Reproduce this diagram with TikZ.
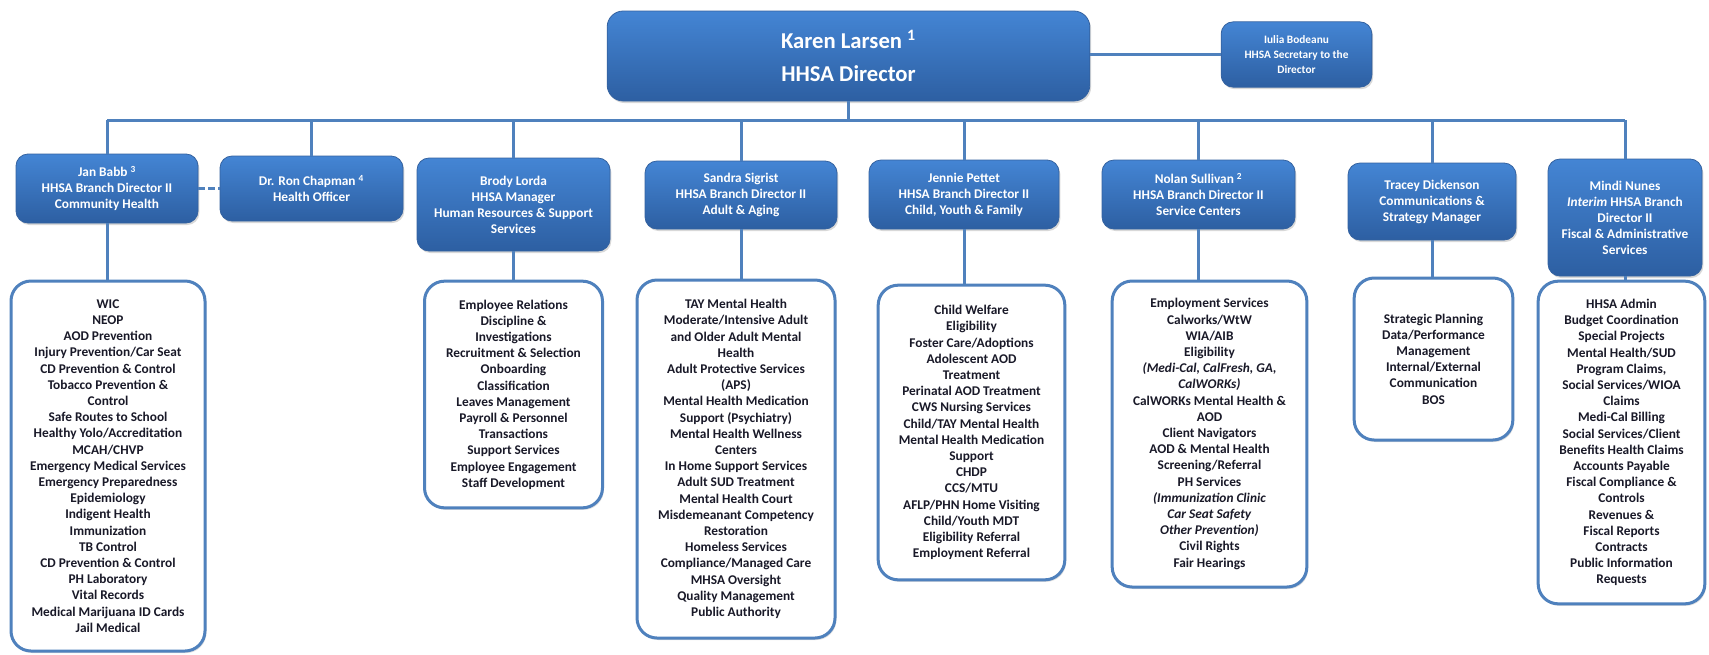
\documentclass[tikz,border=0pt]{standalone}
\usepackage{fontspec}
\setmainfont{Carlito}
\usetikzlibrary{shadows}
\definecolor{lineblue}{RGB}{79,129,189}
\definecolor{boxtop}{RGB}{68,133,212}
\definecolor{boxbot}{RGB}{45,95,162}
\definecolor{boxedge}{RGB}{52,98,160}
\definecolor{listtext}{RGB}{25,25,40}
\begin{document}
\begin{tikzpicture}[x=0.75pt,y=-0.75pt,
  conn/.style={draw=lineblue,line width=2.25pt},
  headbox/.style={rounded corners=9pt, top color=boxtop, bottom color=boxbot,
    draw=boxedge, line width=0.6pt, text=white,
    font=\bfseries\fontsize{10}{12}\selectfont, align=center, inner sep=2pt,
    drop shadow={opacity=0.3,shadow xshift=1pt,shadow yshift=-1.5pt}},
  listbox/.style={rounded corners=15pt, draw=lineblue, line width=2.25pt,
    fill=white, text=listtext, font=\bfseries\fontsize{10}{12.15}\selectfont,
    align=center, inner sep=2pt,
    drop shadow={opacity=0.25,shadow xshift=1pt,shadow yshift=-1.5pt}},
]
\fill[white] (0,0) rectangle (1709,654);
\useasboundingbox (0,0) rectangle (1709,654);

% top level
\node[headbox, rounded corners=12pt, minimum width=362pt, minimum height=67.5pt,
  font=\bfseries\fontsize{17}{25}\selectfont] (dir) at (848.5,56)
  {Karen Larsen \textsuperscript{1}\\HHSA Director};
\node[headbox, minimum width=113pt, minimum height=49pt,
  font=\bfseries\fontsize{8.5}{11.4}\selectfont] (sec) at (1296.5,54.5)
  {Iulia Bodeanu\\HHSA Secretary to the\\Director};

% second level
\node[headbox, minimum width=136.5pt, minimum height=51.75pt] (jan) at (107,188.5)
  {Jan Babb \textsuperscript{3}\\HHSA Branch Director II\\Community Health};
\node[headbox, minimum width=137.25pt, minimum height=48.75pt] (ron) at (311.5,188.5)
  {Dr. Ron Chapman \textsuperscript{4}\\Health Officer};
\node[headbox, minimum width=144.75pt, minimum height=69.75pt] (brody) at (513.5,204.5)
  {Brody Lorda\\HHSA Manager\\Human Resources \& Support\\Services};
\node[headbox, minimum width=144pt, minimum height=51pt] (sandra) at (741,195)
  {Sandra Sigrist\\HHSA Branch Director II\\Adult \& Aging};
\node[headbox, minimum width=142.5pt, minimum height=51.75pt] (jennie) at (964,194.5)
  {Jennie Pettet\\HHSA Branch Director II\\Child, Youth \& Family};
\node[headbox, minimum width=144.75pt, minimum height=51.75pt] (nolan) at (1198.5,194.5)
  {Nolan Sullivan \textsuperscript{2}\\HHSA Branch Director II\\Service Centers};
\node[headbox, minimum width=126pt, minimum height=57.75pt] (tracey) at (1432,201.5)
  {Tracey Dickenson\\Communications \&\\Strategy Manager};
\node[headbox, minimum width=115.5pt, minimum height=87.75pt] (mindi) at (1625,217.5)
  {Mindi Nunes\\\textit{Interim} HHSA Branch\\Director II\\Fiscal \& Administrative\\Services};

% lists
\node[listbox, minimum width=145.5pt, minimum height=277.5pt] (janl) at (108,466)
  {WIC\\NEOP\\AOD Prevention\\Injury Prevention/Car Seat\\CD Prevention \& Control\\
   Tobacco Prevention \&\\Control\\Safe Routes to School\\Healthy Yolo/Accreditation\\
   MCAH/CHVP\\Emergency Medical Services\\Emergency Preparedness\\Epidemiology\\
   Indigent Health\\Immunization\\TB Control\\CD Prevention \& Control\\PH Laboratory\\
   Vital Records\\Medical Marijuana ID Cards\\Jail Medical};
\node[listbox, minimum width=133.5pt, minimum height=170pt] (brodyl) at (513.5,394.5)
  {Employee Relations\\Discipline \&\\Investigations\\Recruitment \& Selection\\
   Onboarding\\Classification\\Leaves Management\\Payroll \& Personnel\\Transactions\\
   Support Services\\Employee Engagement\\Staff Development};
\node[listbox, minimum width=148.5pt, minimum height=268.5pt] (sandral) at (736,459)
  {TAY Mental Health\\Moderate/Intensive Adult\\and Older Adult Mental\\Health\\
   Adult Protective Services\\(APS)\\Mental Health Medication\\Support (Psychiatry)\\
   Mental Health Wellness\\Centers\\In Home Support Services\\Adult SUD Treatment\\
   Mental Health Court\\Misdemeanant Competency\\Restoration\\Homeless Services\\
   Compliance/Managed Care\\MHSA Oversight\\Quality Management\\Public Authority};
\node[listbox, minimum width=140pt, minimum height=221pt] (jenniel) at (971.5,432.5)
  {Child Welfare\\Eligibility\\Foster Care/Adoptions\\Adolescent AOD\\Treatment\\
   Perinatal AOD Treatment\\CWS Nursing Services\\Child/TAY Mental Health\\
   Mental Health Medication\\Support\\CHDP\\CCS/MTU\\AFLP/PHN Home Visiting\\
   Child/Youth MDT\\Eligibility Referral\\Employment Referral};
\node[listbox, minimum width=146pt, minimum height=229.5pt] (nolanl) at (1209.5,434)
  {Employment Services\\Calworks/WtW\\WIA/AIB\\Eligibility\\
   \textit{(Medi-Cal, CalFresh, GA,}\\\textit{CalWORKs)}\\CalWORKs Mental Health \&\\AOD\\
   Client Navigators\\AOD \& Mental Health\\Screening/Referral\\PH Services\\
   \textit{(Immunization Clinic}\\\textit{Car Seat Safety}\\\textit{Other Prevention)}\\
   Civil Rights\\Fair Hearings};
\node[listbox, minimum width=119pt, minimum height=121.5pt] (traceyl) at (1433.5,359)
  {Strategic Planning\\Data/Performance\\Management\\Internal/External\\Communication\\BOS};
\node[listbox, minimum width=125pt, minimum height=242pt] (mindil) at (1621.5,442.5)
  {HHSA Admin\\Budget Coordination\\Special Projects\\Mental Health/SUD\\Program Claims,\\
   Social Services/WIOA\\Claims\\Medi-Cal Billing\\Social Services/Client\\
   Benefits Health Claims\\Accounts Payable\\Fiscal Compliance \&\\Controls\\Revenues \&\\
   Fiscal Reports\\Contracts\\Public Information\\Requests};

% connectors
\coordinate (bus) at (848.5,120);
\draw[conn] (dir.south) -- (bus);
\draw[conn] (sec.west) -- (sec.west -| dir.east);
\draw[conn] (jan.north |- bus) -- (mindi.north |- bus);
\foreach \n in {jan,ron,brody,sandra,jennie,nolan,tracey,mindi}
  \draw[conn] (\n.north) -- (\n.north |- bus);
\foreach \n in {jan,brody,sandra,jennie,nolan,tracey,mindi}
  \draw[conn] (\n.south) -- (\n.south |- \n l.north);
\draw[conn, line width=2pt, dash pattern=on 5pt off 2.5pt] (jan.east) -- (ron.west);
\end{tikzpicture}
\end{document}
